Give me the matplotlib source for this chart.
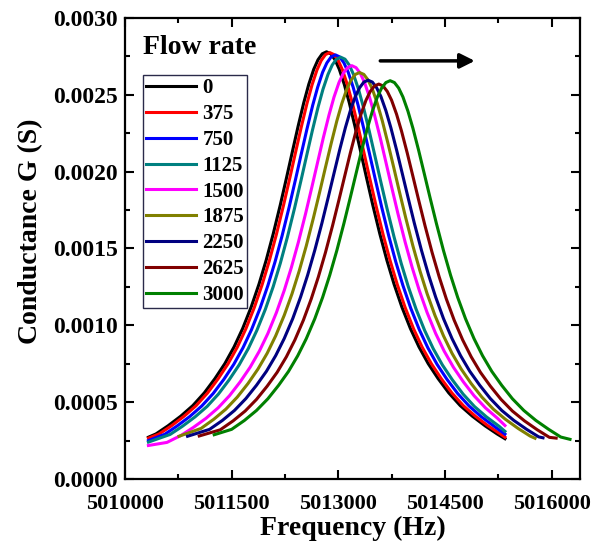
import matplotlib
matplotlib.use('Agg')
import matplotlib.pyplot as plt
from matplotlib.ticker import MultipleLocator, FormatStrFormatter

plt.rcParams['font.family'] = 'Liberation Serif'
plt.rcParams['font.weight'] = 'bold'
plt.rcParams['axes.labelweight'] = 'bold'

# flow rates shown in the legend and their line colours
flow_rates = ['0', '375', '750', '1125', '1500', '1875', '2250', '2625', '3000']
colors = ['#000000', '#ff0000', '#0000ff', '#008080', '#ff00ff',
          '#808000', '#000080', '#800000', '#008000']

# conductance curves (frequency in Hz, G in S)
freq_0 = [5010330, 5010435, 5010605, 5010785, 5010955, 5011115, 5011265, 5011405, 5011535, 5011655,
          5011775, 5011885, 5011985, 5012085, 5012185, 5012275, 5012355, 5012435, 5012515, 5012585,
          5012655, 5012715, 5012775, 5012835, 5012895, 5012955, 5013015, 5013085, 5013155, 5013235,
          5013315, 5013395, 5013485, 5013585, 5013685, 5013785, 5013895, 5014015, 5014135, 5014265,
          5014405, 5014555, 5014715, 5014885, 5015065, 5015235, 5015345]
cond_0 = [0.000272, 0.000293, 0.000346, 0.000409, 0.000478, 0.000560, 0.000653, 0.000751, 0.000860, 0.000979,
          0.001119, 0.001268, 0.001422, 0.001595, 0.001784, 0.001966, 0.002131, 0.002295, 0.002449, 0.002568,
          0.002666, 0.002728, 0.002767, 0.002780, 0.002767, 0.002728, 0.002666, 0.002568, 0.002449, 0.002295,
          0.002131, 0.001966, 0.001784, 0.001595, 0.001422, 0.001268, 0.001119, 0.000979, 0.000860, 0.000751,
          0.000653, 0.000560, 0.000478, 0.000409, 0.000346, 0.000293, 0.000262]

freq_375 = [5010330, 5010480, 5010650, 5010830, 5011000, 5011160, 5011310, 5011450, 5011580, 5011700,
            5011820, 5011930, 5012030, 5012130, 5012230, 5012320, 5012400, 5012480, 5012560, 5012630,
            5012700, 5012760, 5012820, 5012880, 5012940, 5013000, 5013060, 5013130, 5013200, 5013280,
            5013360, 5013440, 5013530, 5013630, 5013730, 5013830, 5013940, 5014060, 5014180, 5014310,
            5014450, 5014600, 5014760, 5014930, 5015110, 5015280, 5015345]
cond_375 = [0.000266, 0.000293, 0.000345, 0.000408, 0.000477, 0.000559, 0.000652, 0.000750, 0.000858, 0.000977,
            0.001117, 0.001266, 0.001420, 0.001592, 0.001781, 0.001962, 0.002127, 0.002291, 0.002444, 0.002563,
            0.002661, 0.002723, 0.002762, 0.002775, 0.002762, 0.002723, 0.002661, 0.002563, 0.002444, 0.002291,
            0.002127, 0.001962, 0.001781, 0.001592, 0.001420, 0.001266, 0.001117, 0.000977, 0.000858, 0.000750,
            0.000652, 0.000559, 0.000477, 0.000408, 0.000345, 0.000293, 0.000272]

freq_750 = [5010330, 5010560, 5010730, 5010910, 5011080, 5011240, 5011390, 5011530, 5011660, 5011780,
            5011900, 5012010, 5012110, 5012210, 5012310, 5012400, 5012480, 5012560, 5012640, 5012710,
            5012780, 5012840, 5012900, 5012960, 5013020, 5013080, 5013140, 5013210, 5013280, 5013360,
            5013440, 5013520, 5013610, 5013710, 5013810, 5013910, 5014020, 5014140, 5014260, 5014390,
            5014530, 5014680, 5014840, 5015010, 5015190, 5015345]
cond_750 = [0.000250, 0.000291, 0.000344, 0.000406, 0.000475, 0.000556, 0.000648, 0.000746, 0.000854, 0.000972,
            0.001111, 0.001259, 0.001412, 0.001583, 0.001771, 0.001952, 0.002116, 0.002278, 0.002431, 0.002549,
            0.002647, 0.002708, 0.002747, 0.002760, 0.002747, 0.002708, 0.002647, 0.002549, 0.002431, 0.002278,
            0.002116, 0.001952, 0.001771, 0.001583, 0.001412, 0.001259, 0.001111, 0.000972, 0.000854, 0.000746,
            0.000648, 0.000556, 0.000475, 0.000406, 0.000344, 0.000292]

freq_1125 = [5010330, 5010635, 5010805, 5010985, 5011155, 5011315, 5011465, 5011605, 5011735, 5011855,
             5011975, 5012085, 5012185, 5012285, 5012385, 5012475, 5012555, 5012635, 5012715, 5012785,
             5012855, 5012915, 5012975, 5013035, 5013095, 5013155, 5013215, 5013285, 5013355, 5013435,
             5013515, 5013595, 5013685, 5013785, 5013885, 5013985, 5014095, 5014215, 5014335, 5014465,
             5014605, 5014755, 5014915, 5015085, 5015265, 5015345]
cond_1125 = [0.000240, 0.000290, 0.000342, 0.000404, 0.000472, 0.000553, 0.000645, 0.000742, 0.000849, 0.000967,
             0.001105, 0.001252, 0.001404, 0.001575, 0.001762, 0.001941, 0.002104, 0.002266, 0.002418, 0.002536,
             0.002632, 0.002694, 0.002732, 0.002745, 0.002732, 0.002694, 0.002632, 0.002536, 0.002418, 0.002266,
             0.002104, 0.001941, 0.001762, 0.001575, 0.001404, 0.001252, 0.001105, 0.000967, 0.000849, 0.000742,
             0.000645, 0.000553, 0.000472, 0.000404, 0.000342, 0.000310]

freq_1500 = [5010330, 5010590, 5010790, 5010960, 5011140, 5011310, 5011470, 5011620, 5011760, 5011890,
             5012010, 5012130, 5012240, 5012340, 5012440, 5012540, 5012630, 5012710, 5012790, 5012870,
             5012940, 5013010, 5013070, 5013130, 5013190, 5013250, 5013310, 5013370, 5013440, 5013510,
             5013590, 5013670, 5013750, 5013840, 5013940, 5014040, 5014140, 5014250, 5014370, 5014490,
             5014620, 5014760, 5014910, 5015070, 5015240, 5015345]
cond_1500 = [0.000218, 0.000238, 0.000284, 0.000335, 0.000395, 0.000463, 0.000542, 0.000632, 0.000727, 0.000832,
             0.000947, 0.001083, 0.001227, 0.001376, 0.001543, 0.001726, 0.001902, 0.002062, 0.002221, 0.002369,
             0.002485, 0.002580, 0.002640, 0.002677, 0.002690, 0.002677, 0.002640, 0.002580, 0.002485, 0.002369,
             0.002221, 0.002062, 0.001902, 0.001726, 0.001543, 0.001376, 0.001227, 0.001083, 0.000947, 0.000832,
             0.000727, 0.000632, 0.000542, 0.000463, 0.000395, 0.000348]

freq_1875 = [5010760, 5011070, 5011250, 5011420, 5011580, 5011730, 5011870, 5012000, 5012120, 5012240,
             5012350, 5012450, 5012550, 5012650, 5012740, 5012820, 5012900, 5012980, 5013050, 5013120,
             5013180, 5013240, 5013300, 5013360, 5013420, 5013480, 5013550, 5013620, 5013700, 5013780,
             5013860, 5013950, 5014050, 5014150, 5014250, 5014360, 5014480, 5014600, 5014730, 5014870,
             5015020, 5015180, 5015350, 5015530, 5015700, 5015768]
cond_1875 = [0.000278, 0.000329, 0.000389, 0.000455, 0.000533, 0.000621, 0.000715, 0.000818, 0.000932, 0.001065,
             0.001206, 0.001353, 0.001517, 0.001698, 0.001870, 0.002028, 0.002183, 0.002330, 0.002443, 0.002537,
             0.002596, 0.002633, 0.002645, 0.002633, 0.002596, 0.002537, 0.002443, 0.002330, 0.002183, 0.002028,
             0.001870, 0.001698, 0.001517, 0.001353, 0.001206, 0.001065, 0.000932, 0.000818, 0.000715, 0.000621,
             0.000533, 0.000455, 0.000389, 0.000329, 0.000279, 0.000265]

freq_2250 = [5010880, 5011190, 5011370, 5011540, 5011700, 5011850, 5011990, 5012120, 5012240, 5012360,
             5012470, 5012570, 5012670, 5012770, 5012860, 5012940, 5013020, 5013100, 5013170, 5013240,
             5013300, 5013360, 5013420, 5013480, 5013540, 5013600, 5013670, 5013740, 5013820, 5013900,
             5013980, 5014070, 5014170, 5014270, 5014370, 5014480, 5014600, 5014720, 5014850, 5014990,
             5015140, 5015300, 5015470, 5015650, 5015820, 5015880]
cond_2250 = [0.000278, 0.000323, 0.000381, 0.000446, 0.000523, 0.000610, 0.000701, 0.000803, 0.000914, 0.001044,
             0.001184, 0.001328, 0.001489, 0.001665, 0.001835, 0.001989, 0.002142, 0.002286, 0.002397, 0.002489,
             0.002546, 0.002583, 0.002595, 0.002583, 0.002546, 0.002489, 0.002397, 0.002286, 0.002142, 0.001989,
             0.001835, 0.001665, 0.001489, 0.001328, 0.001184, 0.001044, 0.000914, 0.000803, 0.000701, 0.000610,
             0.000523, 0.000446, 0.000381, 0.000323, 0.000274, 0.000268]

freq_2625 = [5011045, 5011340, 5011520, 5011690, 5011850, 5012000, 5012140, 5012270, 5012390, 5012510,
             5012620, 5012720, 5012820, 5012920, 5013010, 5013090, 5013170, 5013250, 5013320, 5013390,
             5013450, 5013510, 5013570, 5013630, 5013690, 5013750, 5013820, 5013890, 5013970, 5014050,
             5014130, 5014220, 5014320, 5014420, 5014520, 5014630, 5014750, 5014870, 5015000, 5015140,
             5015290, 5015450, 5015620, 5015800, 5015970, 5016065]
cond_2625 = [0.000280, 0.000320, 0.000378, 0.000442, 0.000518, 0.000604, 0.000694, 0.000795, 0.000905, 0.001034,
             0.001172, 0.001315, 0.001474, 0.001649, 0.001817, 0.001970, 0.002122, 0.002264, 0.002374, 0.002465,
             0.002522, 0.002558, 0.002570, 0.002558, 0.002522, 0.002465, 0.002374, 0.002264, 0.002122, 0.001970,
             0.001817, 0.001649, 0.001474, 0.001315, 0.001172, 0.001034, 0.000905, 0.000795, 0.000694, 0.000604,
             0.000518, 0.000442, 0.000378, 0.000320, 0.000271, 0.000266]

freq_3000 = [5011255, 5011500, 5011680, 5011850, 5012010, 5012160, 5012300, 5012430, 5012550, 5012670,
             5012780, 5012880, 5012980, 5013080, 5013170, 5013250, 5013330, 5013410, 5013480, 5013550,
             5013610, 5013670, 5013730, 5013790, 5013850, 5013910, 5013980, 5014050, 5014130, 5014210,
             5014290, 5014380, 5014480, 5014580, 5014680, 5014790, 5014910, 5015030, 5015160, 5015300,
             5015450, 5015610, 5015780, 5015960, 5016130, 5016260]
cond_3000 = [0.000288, 0.000323, 0.000381, 0.000446, 0.000522, 0.000609, 0.000700, 0.000802, 0.000913, 0.001043,
             0.001182, 0.001326, 0.001487, 0.001664, 0.001833, 0.001987, 0.002140, 0.002283, 0.002394, 0.002486,
             0.002544, 0.002580, 0.002592, 0.002580, 0.002544, 0.002486, 0.002394, 0.002283, 0.002140, 0.001987,
             0.001833, 0.001664, 0.001487, 0.001326, 0.001182, 0.001043, 0.000913, 0.000802, 0.000700, 0.000609,
             0.000522, 0.000446, 0.000381, 0.000323, 0.000273, 0.000258]

freqs = [freq_0, freq_375, freq_750, freq_1125, freq_1500, freq_1875, freq_2250, freq_2625, freq_3000]
conds = [cond_0, cond_375, cond_750, cond_1125, cond_1500, cond_1875, cond_2250, cond_2625, cond_3000]

x_ticks = [5010000, 5011500, 5013000, 5014500, 5016000]
x_tick_labels = ['5010000', '5011500', '5013000', '5014500', '5016000']

fig = plt.figure(figsize=(5.96, 5.54), dpi=100)
ax = fig.add_axes([0.2097, 0.1354, 0.7634, 0.8321])

for f, g, c, lab in zip(freqs, conds, colors, flow_rates):
    ax.plot(f, g, color=c, lw=2.2, label=lab)

ax.set_xlim(5010000, 5016400)
ax.set_ylim(0, 0.003)
ax.set_xticks(x_ticks)
ax.set_xticklabels(x_tick_labels)
ax.xaxis.set_minor_locator(MultipleLocator(750))
ax.yaxis.set_major_locator(MultipleLocator(0.0005))
ax.yaxis.set_minor_locator(MultipleLocator(0.00025))
ax.yaxis.set_major_formatter(FormatStrFormatter('%.4f'))
ax.tick_params(which='both', direction='in', top=True, right=True, width=1.5)
ax.tick_params(which='major', length=6.5)
ax.tick_params(which='minor', length=3.5)
ax.tick_params(axis='x', pad=11, labelsize=16)
ax.tick_params(axis='y', pad=5, labelsize=17)
for s in ax.spines.values():
    s.set_linewidth(1.6)

ax.set_xlabel('Frequency (Hz)', fontsize=20)
ax.set_ylabel('Conductance G (S)', fontsize=20)
ax.xaxis.set_label_coords(0.5, -0.08)
ax.yaxis.set_label_coords(-0.18, 0.538)

# legend with its title placed above the frame
leg = ax.legend(loc='upper left', bbox_to_anchor=(0.0396, 0.876), fontsize=15,
                frameon=True, fancybox=False, edgecolor='#2a2a4a', framealpha=1,
                borderaxespad=0, borderpad=0.15, handlelength=2.4, handletextpad=0.3,
                labelspacing=0.28)
leg.get_frame().set_linewidth(1.0)
ax.text(0.0396, 0.935, 'Flow rate', transform=ax.transAxes, fontsize=20,
        ha='left', va='center')

# shift arrow
ax.annotate('', xy=(0.775, 0.907), xytext=(0.555, 0.907), xycoords='axes fraction',
            arrowprops=dict(arrowstyle='-|>', lw=2.5, color='black', mutation_scale=22))

fig.savefig('out.png', dpi=100)
